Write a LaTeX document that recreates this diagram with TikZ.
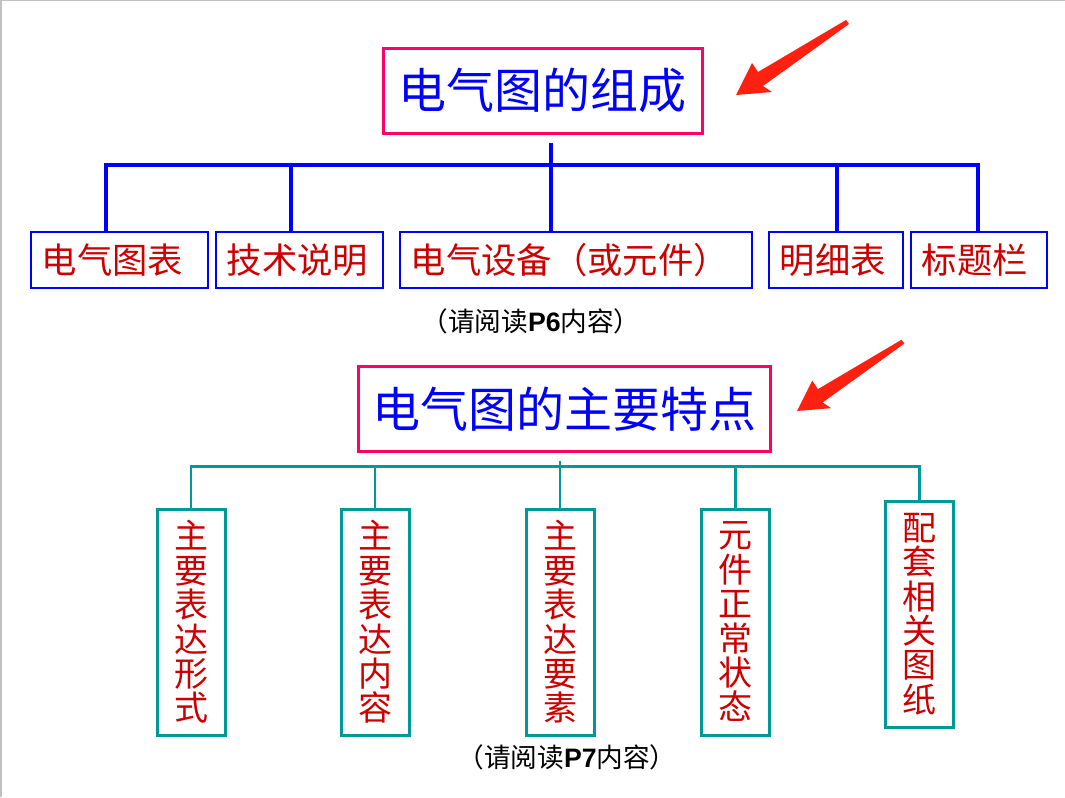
\documentclass[tikz,border=0pt]{standalone}
\usepackage{fontspec}
\setmainfont{Liberation Serif}
\newfontfamily\cjk{Noto Sans CJK SC}
\newfontfamily\latinsans{Liberation Sans}
\usepackage[HTML]{xcolor}
\usetikzlibrary{positioning, arrows.meta}

\definecolor{titlepink}{HTML}{FF0066}
\definecolor{partblue}{HTML}{0000FF}
\definecolor{textred}{HTML}{CC0000}
\definecolor{featteal}{HTML}{009999}
\definecolor{arrowred}{HTML}{FF2010}
\definecolor{framegray}{HTML}{C0C0C0}

\tikzset{
  titlebox/.style={draw=titlepink, line width=2.25pt, text=partblue, inner sep=0pt,
    minimum height=63.75pt, font=\cjk\fontsize{36}{40}\selectfont},
  partbox/.style={draw=partblue, line width=1.5pt, text=textred, inner ysep=0pt, inner xsep=8pt,
    align=left, text width=#1, minimum height=42pt, font=\cjk\fontsize{26.5}{28}\selectfont},
  featbox/.style={draw=featteal, line width=2.25pt, text=textred, inner sep=0pt, align=center,
    minimum width=51pt, minimum height=169.5pt, font=\cjk\fontsize{25.5}{25.8}\selectfont},
  partline/.style={draw=partblue, line width=3pt},
  featline/.style={draw=featteal, line width=2pt},
  readnote/.style={inner sep=0pt, font=\cjk\fontsize{20}{24}\selectfont}
}

\begin{document}
\begin{tikzpicture}[x=0.75pt, y=-0.75pt]
\useasboundingbox (0,0) rectangle (1065,797);
\fill[white] (0,0) rectangle (1065,797);
\fill[framegray] (0,0) rectangle (2,797);
\fill[framegray] (0,0) rectangle (1065,1);

% composition of an electrical drawing
\node[titlebox, minimum width=239.25pt] (t1) at (542.5,90.5) {电气图的组成};
\node[partbox=116.75pt] (b1) at (119.5,260) {电气图表};
\node[partbox=109.25pt] (b2) at (299.5,260) {技术说明};
\node[partbox=248pt] (b3) at (576,260) {电气设备（或元件）};
\node[partbox=84.5pt] (b4) at (836,260) {明细表};
\node[partbox=86pt] (b5) at (979,260) {标题栏};
\node[readnote] (n1) at (531,321) {（请阅读{\latinsans\bfseries P6}内容）};

\foreach \i/\x in {1/106,2/291,3/551,4/837,5/978}
  \coordinate (d\i) at (\x,165);
\draw[partline] ([yshift=-6pt]t1.south -| d3) -- (d3);
\draw[partline] (d1 |- b1.north) -- (d1) -- (d5) -- (d5 |- b5.north);
\foreach \i in {2,3,4}
  \draw[partline] (d\i) -- (d\i |- b\i.north);

% main features of an electrical drawing
\node[titlebox, minimum width=309pt] (t2) at (564,409) {电气图的主要特点};
\node[featbox] (f1) at (191,622) {主\\要\\表\\达\\形\\式};
\node[featbox] (f2) at (375,622) {主\\要\\表\\达\\内\\容};
\node[featbox] (f3) at (560,622) {主\\要\\表\\达\\要\\素};
\node[featbox] (f4) at (735.5,622) {元\\件\\正\\常\\状\\态};
\node[featbox] (f5) at (919.5,614) {配\\套\\相\\关\\图\\纸};
\node[readnote] (n2) at (567,757) {（请阅读{\latinsans\bfseries P7}内容）};

\coordinate (bus2) at (560,466.5);
\draw[featline] ([yshift=-6pt]t2.south -| f3.north) -- (f3.north |- bus2);
\draw[featline] (f1.north) |- (f5.north |- bus2) -- (f5.north);
\foreach \i in {2,3,4}
  \draw[featline] (f\i.north |- bus2) -- (f\i.north);

% pointers
\foreach \tx/\ty/\s in {736/95/1, 797/411/0.95}{
  \begin{scope}[shift={(\tx,\ty)}, scale=\s]
    \fill[arrowred] (0,0) -- (16,-32) -- (22,-23) -- (110,-75) -- (113,-71) -- (27,-9) -- (36,-3) -- cycle;
  \end{scope}
}
\end{tikzpicture}
\end{document}
